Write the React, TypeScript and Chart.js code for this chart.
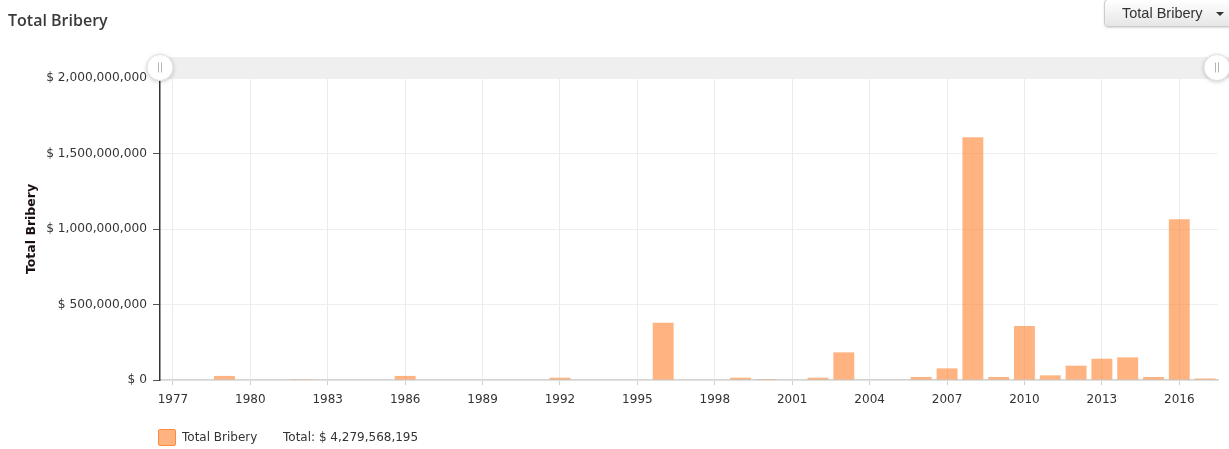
import React, { useEffect, useRef } from "react";
import { Chart, registerables } from "chart.js";

Chart.register(...registerables);

const years: string[] = [
  "1977", "1978", "1979", "1980", "1981", "1982", "1983", "1984", "1985", "1986",
  "1987", "1988", "1989", "1990", "1991", "1992", "1993", "1994", "1995", "1996",
  "1997", "1998", "1999", "2000", "2001", "2002", "2003", "2004", "2005", "2006",
  "2007", "2008", "2009", "2010", "2011", "2012", "2013", "2014", "2015", "2016",
  "2017",
];

const bribery: number[] = [
  0, 0, 27000000, 0, 0, 5000000, 0, 0, 0, 27000000,
  0, 0, 0, 0, 0, 15000000, 0, 0, 0, 379000000,
  0, 0, 15000000, 6000000, 0, 15000000, 183000000, 3000000, 3000000, 20000000,
  77000000, 1607000000, 20000000, 358000000, 31000000, 95000000, 141000000, 150000000, 20000000, 1064000000,
  10000000,
];

const yTicks: number[] = [0, 500000000, 1000000000, 1500000000, 2000000000];
const seriesName = "Total Bribery";
const totalText = "Total: $ 4,279,568,195";

const TICK_FONT = "'DejaVu Sans', Verdana, sans-serif";

const scrollbarPlugin = {
  id: "scrollbar",
  afterDraw(chart: any) {
    const { ctx, chartArea } = chart;
    const top = chartArea.top - 21;
    const h = 21;
    ctx.save();
    ctx.fillStyle = "#efefef";
    ctx.fillRect(chartArea.left, top, chart.width - chartArea.left, h);
    const drawHandle = (cx: number) => {
      const cy = top + h / 2;
      ctx.save();
      ctx.shadowColor = "rgba(0,0,0,0.25)";
      ctx.shadowBlur = 4;
      ctx.shadowOffsetY = 1;
      ctx.beginPath();
      ctx.arc(cx, cy, 13, 0, Math.PI * 2);
      ctx.fillStyle = "#ffffff";
      ctx.fill();
      ctx.restore();
      ctx.beginPath();
      ctx.arc(cx, cy, 13, 0, Math.PI * 2);
      ctx.strokeStyle = "#e2e2e2";
      ctx.lineWidth = 1;
      ctx.stroke();
      ctx.strokeStyle = "#b5b5b5";
      ctx.beginPath();
      ctx.moveTo(cx - 1.5, cy - 5);
      ctx.lineTo(cx - 1.5, cy + 5);
      ctx.moveTo(cx + 1.5, cy - 5);
      ctx.lineTo(cx + 1.5, cy + 5);
      ctx.stroke();
    };
    drawHandle(chartArea.left);
    drawHandle(chartArea.right - 1);
    ctx.restore();
  },
};

export default function App() {
  const canvasRef = useRef<HTMLCanvasElement | null>(null);

  useEffect(() => {
    document.body.style.margin = "0";
    const canvas = canvasRef.current;
    if (!canvas) return;
    const chart = new Chart(canvas, {
      type: "bar",
      data: {
        labels: years,
        datasets: [
          {
            label: seriesName,
            data: bribery,
            backgroundColor: "rgba(255,132,50,0.62)",
            borderWidth: 0,
            barPercentage: 0.81,
            categoryPercentage: 1,
          },
        ],
      },
      options: {
        animation: false,
        responsive: false,
        maintainAspectRatio: false,
        layout: { padding: { top: 78, right: 11, bottom: 0, left: 0 } },
        plugins: {
          legend: { display: false },
          tooltip: { enabled: false },
          title: { display: false },
        },
        scales: {
          x: {
            type: "category",
            offset: true,
            afterFit: (scale: any) => {
              scale.height = 69;
            },
            grid: {
              offset: false,
              drawOnChartArea: true,
              tickLength: 5,
              color: (c: any) => (c.index % 3 === 0 ? "#ebebeb" : "rgba(0,0,0,0)"),
              tickColor: (c: any) => (c.index % 3 === 0 ? "#cfcfcf" : "rgba(0,0,0,0)"),
            },
            border: { display: true, color: "#d4d4d4", width: 1.5 },
            ticks: {
              autoSkip: false,
              maxRotation: 0,
              padding: 8,
              color: "#333333",
              font: { family: TICK_FONT, size: 12 },
              callback: (_v: any, i: number) => (i % 3 === 0 ? years[i] : ""),
            },
          },
          y: {
            min: yTicks[0],
            max: yTicks[yTicks.length - 1],
            afterFit: (scale: any) => {
              scale.width = 160;
            },
            afterBuildTicks: (scale: any) => {
              scale.ticks = yTicks.map((v) => ({ value: v }));
            },
            grid: {
              color: "#efefef",
              tickColor: "#555555",
              tickLength: 7,
            },
            border: { display: true, color: "#333333", width: 1.5 },
            ticks: {
              padding: 6,
              color: "#333333",
              font: { family: TICK_FONT, size: 12.2 },
              callback: (v: any) => "$ " + Number(v).toLocaleString("en-US"),
            },
            title: {
              display: true,
              text: seriesName,
              color: "#1a1010",
              padding: { top: 24, bottom: 0 },
              font: { family: TICK_FONT, size: 12.5, weight: "bold" },
            },
          },
        },
      },
      plugins: [scrollbarPlugin],
    });
    return () => chart.destroy();
  }, []);

  return (
    <div style={{ position: "relative", width: 1229, height: 449, overflow: "hidden", background: "#ffffff" }}>
      <canvas ref={canvasRef} width={1229} height={449} style={{ position: "absolute", left: 0, top: 0 }} />
      <div
        style={{
          position: "absolute",
          left: 8,
          top: 9,
          fontFamily: "'Open Sans', sans-serif",
          fontSize: 16,
          fontWeight: 600,
          color: "#3a3a3a",
          lineHeight: "22px",
        }}
      >
        Total Bribery
      </div>
      <div
        style={{
          position: "absolute",
          left: 1104,
          top: -1,
          width: 140,
          height: 28,
          boxSizing: "border-box",
          border: "1px solid #cccccc",
          borderRadius: 4,
          background: "linear-gradient(#ffffff, #e6e6e6)",
          boxShadow: "0 1px 2px rgba(0,0,0,0.15)",
          fontFamily: "'Liberation Sans', Arial, sans-serif",
          fontSize: 14.5,
          color: "#333333",
        }}
      >
        <span style={{ position: "absolute", left: 17, top: 5 }}>Total Bribery</span>
        <span
          style={{
            position: "absolute",
            left: 111,
            top: 12,
            width: 0,
            height: 0,
            borderLeft: "4px solid transparent",
            borderRight: "4px solid transparent",
            borderTop: "4px solid #333333",
          }}
        />
      </div>
      <div
        style={{
          position: "absolute",
          left: 158,
          top: 429,
          width: 18,
          height: 17,
          boxSizing: "border-box",
          border: "1.5px solid #ff8a3d",
          borderRadius: 2,
          background: "rgba(255,132,50,0.62)",
        }}
      />
      <div
        style={{
          position: "absolute",
          left: 182,
          top: 430,
          fontFamily: TICK_FONT,
          fontSize: 12,
          color: "#333333",
          whiteSpace: "nowrap",
        }}
      >
        {seriesName}
      </div>
      <div
        style={{
          position: "absolute",
          left: 283,
          top: 430,
          fontFamily: TICK_FONT,
          fontSize: 12,
          color: "#333333",
          whiteSpace: "nowrap",
        }}
      >
        {totalText}
      </div>
    </div>
  );
}
